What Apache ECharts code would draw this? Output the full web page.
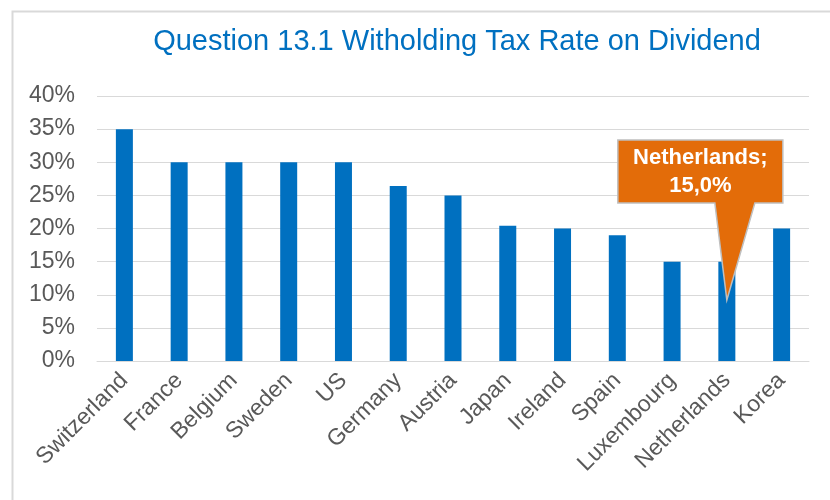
<!DOCTYPE html>
<html>
<head>
<meta charset="utf-8">
<script src="https://cdn.jsdelivr.net/npm/echarts@6/dist/echarts.min.js"></script>
<style>
  html, body { margin: 0; padding: 0; background: #fff; }
  #chart { width: 830px; height: 500px; }
</style>
</head>
<body>
<div id="chart"></div>
<script>
  // data
  const countries = ['Switzerland', 'France', 'Belgium', 'Sweden', 'US', 'Germany', 'Austria',
    'Japan', 'Ireland', 'Spain', 'Luxembourg', 'Netherlands', 'Korea'];
  const taxRates = [35, 30, 30, 30, 30, 26.4, 25, 20.4, 20, 19, 15, 15, 20];
  const calloutCountry = 'Netherlands';
  const calloutText = 'Netherlands;\n15,0%';
  const calloutTipValue = 9.2;

  const chart = echarts.init(document.getElementById('chart'));
  const font = '"Liberation Sans", Arial, sans-serif';

  chart.setOption({
    animation: false,
    title: {
      text: 'Question 13.1 Witholding Tax Rate on Dividend',
      left: 452,
      textAlign: 'center',
      top: 22,
      textStyle: { color: '#0070C0', fontSize: 29, fontWeight: 'normal', fontFamily: font }
    },
    grid: { left: 97, right: 21, top: 96, bottom: 139 },
    xAxis: {
      type: 'category',
      data: countries,
      axisTick: { show: false },
      axisLine: { lineStyle: { color: '#d9d9d9' } },
      axisLabel: {
        rotate: 45, interval: 0, margin: 16,
        color: '#595959', fontSize: 23, fontFamily: font
      }
    },
    yAxis: {
      type: 'value',
      min: 0, max: 40, interval: 5,
      axisLabel: {
        formatter: '{value}%', margin: 22,
        color: '#595959', fontSize: 23, fontFamily: font
      },
      splitLine: { lineStyle: { color: '#d9d9d9', width: 1 } }
    },
    series: [{
      type: 'bar',
      data: taxRates,
      barWidth: 17,
      itemStyle: { color: '#0070C0' }
    }]
  });

  // callout box pointing at the Netherlands bar
  const tip = chart.convertToPixel({ seriesIndex: 0 }, [calloutCountry, calloutTipValue]);
  const tx = tip[0], ty = tip[1];
  const boxL = tx - 109, boxR = tx + 56, boxT = ty - 160, boxB = ty - 97;

  chart.setOption({
    graphic: [
      {
        type: 'rect', left: 10, top: 9, silent: true,
        shape: { width: 840, height: 600 },
        style: { fill: 'none', stroke: '#d9d9d9', lineWidth: 2 }
      },
      {
        type: 'polygon', silent: true, z: 100,
        shape: {
          points: [
            [boxL, boxT], [boxR, boxT], [boxR, boxB],
            [tx + 28, boxB], [tx, ty], [tx - 12, boxB], [boxL, boxB]
          ]
        },
        style: { fill: '#E36C09', stroke: '#bfbfbf', lineWidth: 1.5 }
      },
      {
        type: 'text', silent: true, z: 101,
        x: (boxL + boxR) / 2, y: (boxT + boxB) / 2,
        style: {
          text: calloutText, fill: '#fff', align: 'center', verticalAlign: 'middle',
          font: 'bold 22px ' + font, lineHeight: 28
        }
      }
    ]
  });
</script>
</body>
</html>
